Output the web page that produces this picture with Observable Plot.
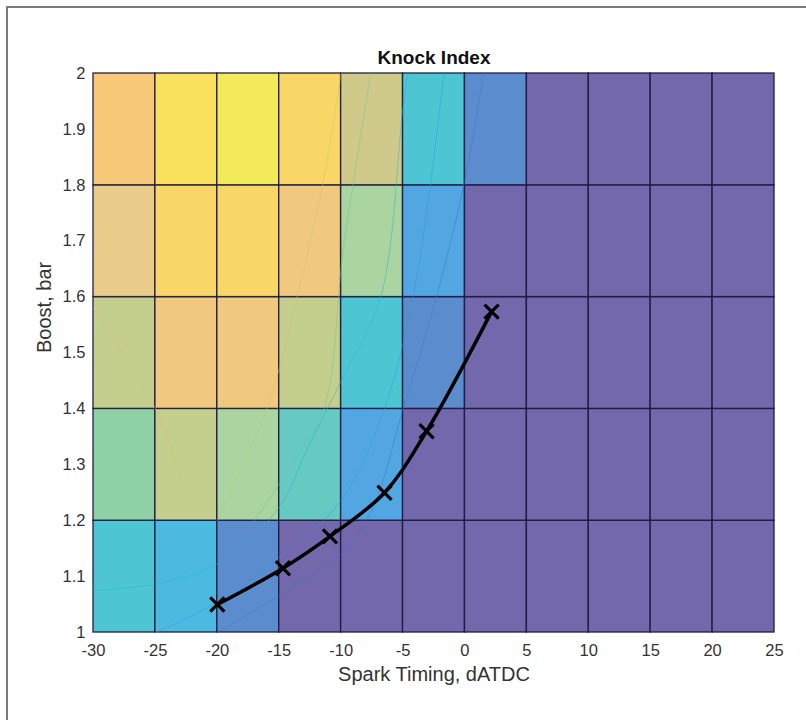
<!DOCTYPE html>
<html>
<head>
<meta charset="utf-8">
<script src="https://cdn.jsdelivr.net/npm/d3@7"></script>
<script src="https://cdn.jsdelivr.net/npm/@observablehq/plot@0.6"></script>
<style>
  html, body { margin: 0; padding: 0; background: #fff; }
  #page { position: relative; width: 806px; height: 720px; overflow: hidden; }
  #border { position: absolute; left: 6px; top: 6px; width: 900px; height: 900px;
            border-left: 2px solid #7a7a7a; border-top: 2px solid #7a7a7a; }
  #chart { position: absolute; left: 0; top: 0; }
</style>
</head>
<body>
<div id="page"><div id="border"></div><div id="chart"></div></div>
<script>
// ---- data ----
const xEdges = [-30, -25, -20, -15, -10, -5, 0, 5, 10, 15, 20, 25];
const yEdges = [1.0, 1.2, 1.4, 1.6, 1.8, 2.0];
// knock-index level per cell (row = boost band from 1.0 upward, column = spark timing band from -30)
const levelRow10 = [4, 3, 1, 0, 0, 0, 0, 0, 0, 0, 0];
const levelRow12 = [6, 8, 7, 5, 2, 0, 0, 0, 0, 0, 0];
const levelRow14 = [8, 11, 11, 8, 4, 1, 0, 0, 0, 0, 0];
const levelRow16 = [10, 13, 13, 11, 7, 2, 0, 0, 0, 0, 0];
const levelRow18 = [12, 14, 15, 13, 9, 4, 1, 0, 0, 0, 0];
const levelRows = [levelRow10, levelRow12, levelRow14, levelRow16, levelRow18];

// optimum spark-timing sweep (black line)
const sweepX = [-20, -14.7, -10.9, -6.5, -3.1, 2.15];
const sweepY = [1.05, 1.115, 1.172, 1.25, 1.36, 1.574];

// faint contour lines
const contour1X = [-20, -15, -10, -7.5, -5, -2.3, -0.1, 1.5];
const contour1Y = [1.0, 1.066, 1.14, 1.22, 1.4, 1.6, 1.8, 2.0];
const contour2X = [-25, -20, -15, -10, -6.5, -4.2, -2.8, -1.7];
const contour2Y = [1.0, 1.054, 1.135, 1.236, 1.4, 1.6, 1.8, 2.0];
const contour3X = [-30, -25, -20, -15, -12.7, -10, -6.8, -5.05, -4.6];
const contour3Y = [1.075, 1.087, 1.123, 1.224, 1.33, 1.45, 1.6, 1.93, 2.0];
const contour4X = [-17, -14, -11.4, -9.8, -7.6];
const contour4Y = [1.2, 1.3, 1.4, 1.69, 2.0];
const contour5X = [-20, -16, -13.5, -11.5, -10];
const contour5Y = [1.2, 1.4, 1.606, 1.8, 2.0];
const contour6X = [-30, -25, -23];
const contour6Y = [1.58, 1.4, 1.28];

const xTicks = [-30, -25, -20, -15, -10, -5, 0, 5, 10, 15, 20, 25];
const yTicks = [1, 1.1, 1.2, 1.3, 1.4, 1.5, 1.6, 1.7, 1.8, 1.9, 2];

const titleText = "Knock Index";
const xLabel = "Spark Timing, dATDC";
const yLabel = "Boost, bar";

// ---- build tables ----
const cells = [];
levelRows.forEach((row, j) => row.forEach((v, i) => cells.push({
  x1: xEdges[i], x2: xEdges[i + 1], y1: yEdges[j], y2: yEdges[j + 1], level: v
})));
const sweep = sweepX.map((x, i) => ({x, y: sweepY[i]}));
const mk = (xs, ys) => xs.map((x, i) => ({x, y: ys[i]}));
const contours = [
  {pts: mk(contour1X, contour1Y), color: "#3a78cc"},
  {pts: mk(contour2X, contour2Y), color: "#2a9ee0"},
  {pts: mk(contour3X, contour3Y), color: "#26b8c8"},
  {pts: mk(contour4X, contour4Y), color: "#6cc49a"},
  {pts: mk(contour5X, contour5Y), color: "#c8c272"},
  {pts: mk(contour6X, contour6Y), color: "#e0bc70"}
];

const palette = ["#7268ab", "#5b8ccd", "#52a6e2", "#4bb9e0", "#4ec5d2", "#66c9c2",
  "#8ed1a4", "#aad4a0", "#c4ce8d", "#d0ca8a", "#e9cc8a", "#f1c97e",
  "#f7c877", "#f9d767", "#f9e15d", "#f3ea5a"];

const font = "'Liberation Sans', Arial, Helvetica, sans-serif";

const chart = Plot.plot({
  width: 806,
  height: 720,
  marginLeft: 93,
  marginRight: 32,
  marginTop: 73,
  marginBottom: 88,
  style: {fontFamily: font, background: "transparent", color: "#333"},
  x: {domain: [-30, 25]},
  y: {domain: [1, 2]},
  color: {type: "ordinal", domain: d3.range(palette.length), range: palette},
  marks: [
    Plot.rect(cells, {x1: "x1", x2: "x2", y1: "y1", y2: "y2", fill: "level",
      stroke: "#1c1840", strokeWidth: 1.4, strokeOpacity: 0.9}),
    ...contours.map(c => Plot.line(c.pts, {x: "x", y: "y", curve: "catmull-rom",
      stroke: c.color, strokeWidth: 1, strokeOpacity: 0.5})),
    Plot.line(sweep, {x: "x", y: "y", curve: "catmull-rom", stroke: "black", strokeWidth: 3.5}),
    Plot.dot(sweep, {x: "x", y: "y", symbol: "times", r: 6.5, stroke: "black", strokeWidth: 3.2}),
    Plot.axisX({ticks: xTicks, tickSize: 0, tickPadding: 12, fontSize: 16.5,
      tickFormat: d => String(d), label: null}),
    Plot.axisY({ticks: yTicks, tickSize: 0, tickPadding: 8, fontSize: 16.5,
      tickFormat: d => String(+d.toFixed(1)), label: null}),
    Plot.text([titleText], {text: d => d, frameAnchor: "top", dy: -23, fontSize: 19,
      fontWeight: "bold", fill: "#111"}),
    Plot.text([xLabel], {text: d => d, frameAnchor: "bottom", dy: 48, fontSize: 20, fill: "#333"}),
    Plot.text([yLabel], {text: d => d, frameAnchor: "left", dx: -49, rotate: -90, fontSize: 20, fill: "#333"})
  ]
});
document.getElementById("chart").appendChild(chart);
</script>
</body>
</html>
